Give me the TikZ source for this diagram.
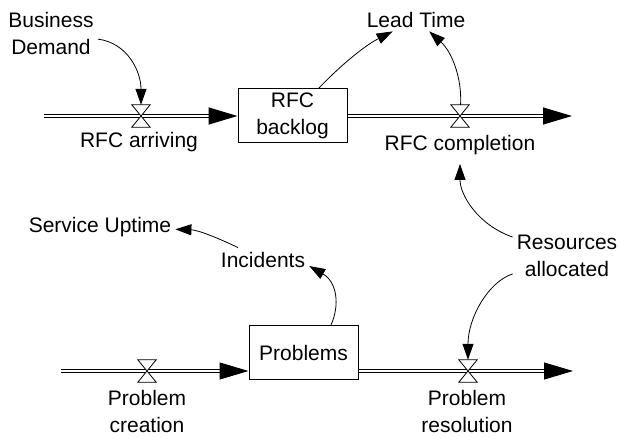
\documentclass[tikz,border=0pt]{standalone}
\usepackage{fontspec}
\setmainfont{Liberation Sans}
\usetikzlibrary{arrows.meta}
\begin{document}
\begin{tikzpicture}[x=1pt, y=-1pt,
      every node/.style={font=\fontsize{21}{27}\selectfont, inner sep=4pt},
      stock/.style={draw, line width=1pt, align=center, inner sep=0pt,
        minimum width=109pt, minimum height=54pt},
      lbl/.style={align=center},
      pipe/.style={double, double distance=2.4pt, line width=1.1pt,
        -{Triangle[length=29pt, width=17pt]}},
      valve/.style={minimum width=18pt, minimum height=22pt, inner sep=0pt,
        append after command={\pgfextra{\draw[line width=0.8pt, fill=white]
          (\tikzlastnode.north west) -- (\tikzlastnode.north east) --
          (\tikzlastnode.south west) -- (\tikzlastnode.south east) -- cycle;}}},
      link/.style={line width=0.8pt, -{Triangle[length=16pt, width=11pt]}},
    ]
    \useasboundingbox (0,0) rectangle (620,438);

    \node[stock] (backlog)  at (292.5, 116)   {RFC\\backlog};
    \node[stock] (problems) at (303.5, 352.5) {Problems};

    \coordinate (src1)  at (44, 116);
    \coordinate (sink1) at (572, 116);
    \coordinate (src2)  at (61, 371);
    \coordinate (sink2) at (573, 371);

    \draw[pipe] (src1) -- (backlog);
    \draw[pipe] (backlog) -- (sink1);
    \draw[pipe] (src2) -- (src2 -| problems.west);
    \draw[pipe] (problems.east |- sink2) -- (sink2);

    \node[valve] (vArr)  at (141, 116) {};
    \node[valve] (vCmp)  at (460, 116) {};
    \node[valve] (vCre)  at (147, 371) {};
    \node[valve] (vRes)  at (468, 371) {};

    \node[lbl] (arr)    at (139, 142.5) {RFC arriving};
    \node[lbl] (cmp)    at (460, 145)   {RFC completion};
    \node[lbl] (cre)    at (147, 411)   {Problem\\creation};
    \node[lbl] (resol)  at (467, 411.5) {Problem\\resolution};

    \node[lbl] (demand) at (51, 33)     {Business\\Demand};
    \node[lbl] (lead)   at (416, 19.5)  {Lead Time};
    \node[lbl] (res)    at (567, 256)   {Resources\\allocated};
    \node[lbl] (inc)    at (263, 259.5) {Incidents};
    \node[lbl] (uptime) at (100, 227)   {Service Uptime};

    \draw[link] (demand) .. controls (128,43) and (141,72) .. (vArr);
    \draw[link] (backlog) .. controls (336,70) and (362,47) .. (lead);
    \draw[link] (vCmp) .. controls (462,78) and (452,52) .. (lead);
    \draw[link, shorten >=5pt] (res) .. controls (478,225) and (460,195) .. (cmp);
    \draw[link] (res) .. controls (488,282) and (468,318) .. (vRes);
    \draw[link] (problems.45) .. controls (340,305) and (337,282) .. (inc.-8);
    \draw[link] (inc) .. controls (218,238) and (198,230) .. (uptime);
  \end{tikzpicture}
\end{document}
